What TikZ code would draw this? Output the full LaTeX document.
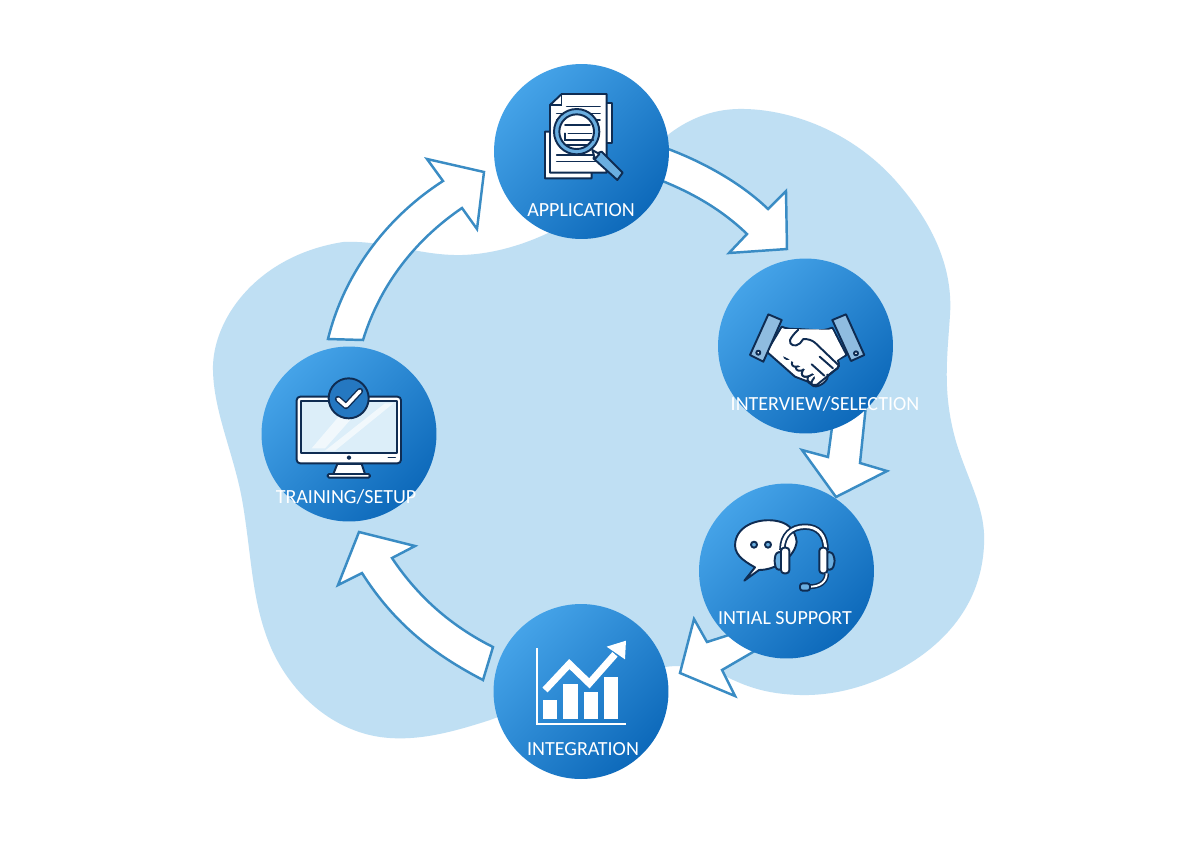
\documentclass[tikz,border=0pt]{standalone}
\usepackage{fontspec}
\setmainfont{Carlito}
\usetikzlibrary{calc}
\definecolor{blob}{HTML}{BFDFF3}
\definecolor{edgeblue}{HTML}{3A8CC4}
\definecolor{ink}{HTML}{0F2C52}
\definecolor{discA}{HTML}{45A3E8}
\definecolor{discB}{HTML}{0D69BA}
\definecolor{midblue}{HTML}{6AAEE0}
\definecolor{cuff}{HTML}{8FBCE0}
\definecolor{screen}{HTML}{DCEEF9}
\tikzset{
  disc/.style={circle,minimum size=35mm,inner sep=0pt,shading=axis,left color=discA,right color=discB,shading angle=45},
  blockarrow/.style={draw=edgeblue,fill=white,line width=1.4pt,line join=miter},
  lab/.style={text=white,font=\fontsize{11.4}{13}\selectfont,inner sep=0pt},
  icon/.style={draw=ink,line width=1.1pt,line join=round,line cap=round},
  wicon/.style={icon,fill=white},
  rule/.style={draw=ink,line width=0.9pt,line cap=round},
  zoomed/.style={x=0.0066667cm,y=-0.0066667cm}
}
\begin{document}
\begin{tikzpicture}[x=0.02cm,y=-0.02cm]
\useasboundingbox (0,0) rectangle (1200,840);
\fill[white] (0,0) rectangle (1200,840);
% background blob
\fill[blob] (343,242) .. controls (385,240) and (420,256) .. (462,255)
  .. controls (530,253) and (610,210) .. (669,134)
  .. controls (690,118) and (715,108) .. (745,109)
  .. controls (790,110) and (850,130) .. (895,180)
  .. controls (935,225) and (953,270) .. (950,315)
  .. controls (947,360) and (942,395) .. (957,445)
  .. controls (970,485) and (986,510) .. (984,545)
  .. controls (982,590) and (960,630) .. (915,660)
  .. controls (880,683) and (840,696) .. (800,695)
  .. controls (765,694) and (745,686) .. (725,676)
  .. controls (705,668) and (685,664) .. (665,667)
  .. controls (600,680) and (530,705) .. (490,720)
  .. controls (450,733) and (420,740) .. (390,738)
  .. controls (340,735) and (295,700) .. (272,650)
  .. controls (252,605) and (252,560) .. (243,505)
  .. controls (235,455) and (212,410) .. (213,365)
  .. controls (215,315) and (260,255) .. (343,242) -- cycle;
% arrows behind the discs
\coordinate (a1t) at (328,339);
\coordinate (a1h) at (484,172);
\draw[blockarrow] (a1t) .. controls (345,270) and (390,215) .. (443,181) -- (427,159) -- (a1h) -- (477,229) -- (462,208)
  .. controls (415,240) and (380,285) .. (363,340) -- cycle;
\coordinate (a2t) at (660,146);
\coordinate (a2h) at (787,249);
\draw[blockarrow] (a2t) .. controls (700,160) and (740,182) .. (768,209) -- (786,191) -- (a2h) -- (729,253) -- (747,234)
  .. controls (720,208) and (690,192) .. (660,180) -- cycle;
\coordinate (a3t) at (866,405);
\coordinate (a3h) at (836,497);
\draw[blockarrow] (a3t) -- (860,463) -- (887,471) -- (a3h) -- (802,450) -- (828,457) -- (833,420) -- cycle;
\coordinate (a4t) at (760,625);
\coordinate (a4h) at (680,673);
\draw[blockarrow] (a4t) -- (707,642) -- (694,619) -- (a4h) -- (735,696) -- (722,670) -- (765,645) -- cycle;
\coordinate (a5t) at (493,647);
\coordinate (a5h) at (359,532);
\draw[blockarrow] (a5t) .. controls (455,628) and (420,600) .. (392,558) -- (415,546) -- (a5h) -- (338,585) -- (362,573)
  .. controls (395,625) and (435,655) .. (483,680) -- cycle;
% discs
\node[disc] (app) at (581.5,151.5) {};
\node[disc] (int) at (805.5,346) {};
\node[disc] (sup) at (786.5,571) {};
\node[disc] (itg) at (581,691.5) {};
\node[disc] (trn) at (349,434) {};
% application icon
\begin{scope}[shift={(540,90)},zoomed]
  \draw[wicon] (200,38) -- (217,38) -- (217,160) -- (200,160);
  \draw[wicon] (30,125) -- (15,125) -- (15,265) -- (155,265) -- (155,248) -- cycle;
  \draw[wicon] (30,45) -- (65,12) -- (200,12) -- (200,248) -- (30,248) -- cycle;
  \draw[rule] (65,12) -- (65,45) -- (30,45);
  \foreach \yy/\xa/\xb in {50/80/180,70/50/180,90/50/180,195/50/160,215/50/170}
    \draw[rule] (\xa,\yy) -- (\xb,\yy);
  \draw[icon,fill=midblue] (170,190) -- (185,185) -- (248,248) -- (232,270) -- (160,205) -- cycle;
  \draw[icon,fill=white] (157,180) -- (178,192) -- (165,207) -- cycle;
  \draw[icon,fill=midblue] (110,125) circle[radius=68];
  \draw[icon,fill=white] (110,125) circle[radius=52];
  \draw[rule] (75,130) -- (75,150) -- (160,150);
  \draw[rule] (85,130) -- (155,130);
  \draw[rule] (80,165) -- (140,165);
  \draw[rule] (75,105) -- (150,105);
\end{scope}
% handshake icon
\begin{scope}[shift={(745,305)},zoomed]
  \draw[wicon] (110,65) .. controls (125,72) and (140,72) .. (160,72) -- (205,75) .. controls (225,78) and (245,75) .. (262,68)
    -- (305,150) -- (278,165) .. controls (285,178) and (282,188) .. (270,195)
    -- (215,240) -- (150,215) -- (65,140) -- cycle;
  \foreach \cx/\cy in {120,177,142,195,165,212,195,224}
    \draw[wicon,rotate around={35:(\cx,\cy)}] (\cx,\cy) ellipse[x radius=28,y radius=15];
  \fill[white] (110,72) -- (262,74) -- (298,150) -- (272,168) -- (278,182) -- (262,195) -- (212,232) -- (208,208) -- (178,192) -- (150,175) -- (125,158) -- (78,138) -- cycle;
  \draw[icon] (160,74) .. controls (148,85) and (140,95) .. (135,105) .. controls (132,120) and (150,128) .. (165,115)
    -- (175,102) .. controls (190,102) and (200,105) .. (210,113) -- (282,182);
  \draw[icon] (282,182) .. controls (280,190) and (275,193) .. (270,195) -- (215,240) .. controls (205,242) and (195,238) .. (190,232);
  \draw[icon] (200,178) -- (238,212);
  \draw[icon] (224,155) -- (264,190);
  \draw[icon,fill=cuff] (70,28) -- (110,45) -- (55,170) -- (15,150) -- cycle;
  \draw[icon,fill=cuff] (262,45) -- (303,28) -- (358,150) -- (318,168) -- cycle;
  \draw[icon,fill=white] (40,143) circle[radius=6];
  \draw[icon,fill=white] (333,145) circle[radius=6];
\end{scope}
% headset icon
\begin{scope}[shift={(680,410)},zoomed]
  \draw[wicon] (225,472) .. controls (185,450) and (160,430) .. (166,395)
    .. controls (175,345) and (235,325) .. (285,332) .. controls (320,337) and (345,355) .. (350,395)
    .. controls (345,440) and (290,480) .. (237,480) -- (193,512) -- cycle;
  \draw[icon,fill=midblue] (222,404) circle[radius=9];
  \draw[icon,fill=midblue] (264,404) circle[radius=9];
  \draw[ink,line width=3.6pt] (307,420) .. controls (307,375) and (335,350) .. (375,350) .. controls (415,350) and (437,375) .. (437,420);
  \draw[white,line width=1.6pt] (307,420) .. controls (307,375) and (335,350) .. (375,350) .. controls (415,350) and (437,375) .. (437,420);
  \draw[icon,fill=midblue,rounded corners=1.5pt] (305,425) -- (288,428) -- (283,452) -- (288,478) -- (305,480) -- cycle;
  \draw[icon,fill=midblue,rounded corners=1.5pt] (440,425) -- (458,428) -- (465,452) -- (458,478) -- (440,480) -- cycle;
  \draw[wicon,rounded corners=1.8pt] (303,413) rectangle (328,490);
  \draw[wicon,rounded corners=1.8pt] (418,413) rectangle (442,490);
  \draw[ink,line width=2.8pt] (440,490) .. controls (440,515) and (420,530) .. (390,530);
  \draw[white,line width=1.1pt] (440,490) .. controls (440,515) and (420,530) .. (390,530);
  \draw[icon,fill=midblue,rounded corners=1.5pt] (360,520) rectangle (390,542);
\end{scope}
% chart icon
\begin{scope}[shift={(340,520)},zoomed]
  \draw[white,line width=1.2pt] (590,385) -- (590,612) -- (858,612);
  \fill[white] (610,540) rectangle (652,598);
  \fill[white] (670,492) rectangle (713,598);
  \fill[white] (731,517) rectangle (773,598);
  \fill[white] (791,470) rectangle (833,598);
  \draw[white,line width=4pt,line join=miter] (615,510) -- (688,432) -- (748,490) -- (825,403);
  \fill[white] (858,362) -- (800,380) -- (855,418) -- cycle;
\end{scope}
% monitor icon
\begin{scope}[shift={(250,340)},zoomed]
  \draw[wicon] (262,372) -- (335,372) -- (345,402) -- (250,402) -- cycle;
  \draw[wicon,rounded corners=0.8pt] (233,402) rectangle (360,413);
  \draw[wicon,rounded corners=2pt] (140,170) rectangle (453,370);
  \draw[icon,fill=screen] (153,183) rectangle (440,340);
  \fill[white,opacity=.6] (185,325) -- (300,190) -- (345,190) -- (225,325) -- cycle;
  \fill[white,opacity=.6] (225,332) -- (405,190) -- (430,190) -- (255,332) -- cycle;
  \draw[icon,fill=ink] (297,353) circle[radius=4];
  \draw[rule] (415,353) -- (436,353);
  \draw[icon,fill=discB!90!white] (296,175) circle[radius=60];
  \draw[ink,line width=3.6pt,line cap=round,line join=round] (264,177) -- (288,198) -- (330,153);
  \draw[white,line width=2pt,line cap=round,line join=round] (264,177) -- (288,198) -- (330,153);
\end{scope}
% labels
\node[lab] (l1) at (581,210) {APPLICATION};
\node[lab] (l2) at (825,404) {INTERVIEW/SELECTION};
\node[lab] (l3) at (785,618) {INTIAL SUPPORT};
\node[lab] (l4) at (583,749) {INTEGRATION};
\node[lab] (l5) at (346,497) {TRAINING/SETUP};
\end{tikzpicture}
\end{document}
